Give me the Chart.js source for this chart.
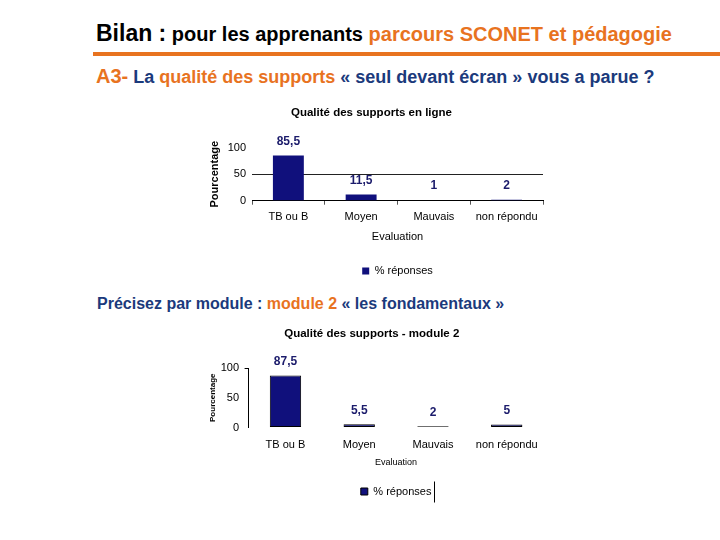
<!DOCTYPE html>
<html>
<head>
<meta charset="utf-8">
<script src="https://cdn.jsdelivr.net/npm/chart.js@4/dist/chart.umd.min.js"></script>
<style>
  html, body { margin: 0; padding: 0; background: #ffffff; }
  body { width: 720px; height: 540px; position: relative; overflow: hidden; font-family: 'Liberation Sans', Arial, sans-serif; }
  .txt { position: absolute; white-space: nowrap; font-weight: bold; }
  .or { color: #e8731f; }
  .nv { color: #1b3a7c; }
  canvas { position: absolute; }
</style>
</head>
<body>
<div class="txt" style="left:96px; top:21px; font-size:20px; line-height:24px; color:#000;"><span style="font-size:23px;">Bilan :</span> pour les apprenants <span class="or">parcours SCONET et pédagogie</span></div>
<div style="position:absolute; left:93px; top:52px; width:627px; height:4px; background:#e8731f;"></div>
<div class="txt nv" style="left:96px; top:65px; font-size:18px; line-height:22px;"><span class="or" style="font-size:20px;">A3-</span> La <span class="or">qualité des supports</span> « seul devant écran » vous a parue ?</div>
<div class="txt nv" style="left:97px; top:294px; font-size:16px; line-height:20px;">Précisez par module : <span class="or">module 2</span> « les fondamentaux »</div>

<canvas id="c1" width="350" height="190" style="left:200px; top:100px;"></canvas>
<canvas id="c2" width="350" height="190" style="left:200px; top:320px;"></canvas>

<script>
// ---- data ----
const categories = ['TB ou B', 'Moyen', 'Mauvais', 'non répondu'];
const valuesEnLigne = [85.5, 11.5, 1, 2];
const valuesModule2 = [87.5, 5.5, 2, 5];
const yTickValues = [0, 50, 100];
const seriesLabel = '% réponses';
const title1 = 'Qualité des supports en ligne';
const title2 = 'Qualité des supports - module 2';
const yTitle = 'Pourcentage';
const xTitle = 'Evaluation';

const FONT = "'Liberation Sans', Arial, sans-serif";
const NAVY = '#10107c';
const LABEL_NAVY = '#1b1b6b';

Chart.defaults.font.family = FONT;
Chart.defaults.color = '#000';

const valueLabels = {
  id: 'valueLabels',
  afterDatasetsDraw(chart) {
    const ctx = chart.ctx;
    chart.data.datasets.forEach((ds, i) => {
      chart.getDatasetMeta(i).data.forEach((bar, j) => {
        ctx.save();
        ctx.font = 'bold 12px ' + FONT;
        ctx.fillStyle = LABEL_NAVY;
        ctx.textAlign = 'center';
        ctx.textBaseline = 'middle';
        ctx.fillText(String(ds.data[j]).replace('.', ','), bar.x, bar.y - 14);
        ctx.restore();
      });
    });
  }
};

const legendBar = {
  id: 'legendBar',
  afterDraw(chart, args, opts) {
    if (!opts || !opts.show) return;
    const lg = chart.legend;
    if (!lg || !lg.legendHitBoxes || !lg.legendHitBoxes.length) return;
    const hb = lg.legendHitBoxes[0];
    const ctx = chart.ctx;
    const x = Math.round(hb.left + hb.width + 3) + 0.5;
    const cy = hb.top + hb.height / 2;
    ctx.save();
    ctx.strokeStyle = '#000';
    ctx.lineWidth = 1;
    ctx.beginPath();
    ctx.moveTo(x, cy - 10);
    ctx.lineTo(x, cy + 11);
    ctx.stroke();
    ctx.restore();
  }
};

function makeChart(id, values, cfg) {
  return new Chart(document.getElementById(id), {
    type: 'bar',
    data: {
      labels: categories,
      datasets: [{
        label: seriesLabel,
        data: values,
        backgroundColor: NAVY,
        borderColor: cfg.border ? '#000000' : NAVY,
        borderWidth: cfg.border ? 1 : 0,
        borderSkipped: false,
        barPercentage: 0.425,
        categoryPercentage: 1.0
      }]
    },
    options: {
      responsive: false,
      animation: false,
      devicePixelRatio: 1,
      layout: { padding: { left: 0, right: cfg.padRight, top: 0, bottom: cfg.padBottom } },
      plugins: {
        title: {
          display: true,
          text: cfg.title,
          font: { size: 11.5, weight: 'bold' },
          color: '#000',
          padding: { top: cfg.titleTop, bottom: cfg.titleBottom }
        },
        legend: {
          display: true,
          position: 'bottom',
          fullSize: false,
          labels: {
            boxWidth: 7,
            boxHeight: 7,
            padding: cfg.legendPad,
            font: { size: 11 },
            color: '#000'
          }
        },
        tooltip: { enabled: false },
        legendBar: { show: cfg.legendBar }
      },
      scales: {
        x: {
          afterFit(scale) { scale.height = cfg.xHeight; },
          border: { display: cfg.xBorder, color: '#000' },
          grid: {
            display: cfg.xTicks,
            drawOnChartArea: false,
            drawTicks: cfg.xTicks,
            tickLength: cfg.xTicks ? 4 : 0,
            color: '#555'
          },
          ticks: { font: { size: 11 }, color: '#000', padding: cfg.xTickPad, maxRotation: 0, autoSkip: false },
          title: {
            display: true,
            text: xTitle,
            font: { size: cfg.xTitleSize, weight: cfg.xTitleWeight },
            color: '#000',
            padding: 0
          }
        },
        y: {
          min: 0,
          max: 100,
          afterFit(scale) { scale.width = cfg.yWidth; },
          afterBuildTicks(scale) { scale.ticks = yTickValues.map(v => ({ value: v })); },
          border: { display: cfg.yBorder, color: '#000' },
          grid: cfg.yGrid,
          ticks: { font: { size: 11 }, color: '#000', padding: cfg.yTickPad },
          title: {
            display: true,
            text: yTitle,
            font: { size: cfg.yTitleSize, weight: 'bold' },
            color: '#000',
            padding: { top: cfg.yTitlePad, bottom: 0 }
          }
        }
      }
    },
    plugins: [valueLabels, legendBar]
  });
}

makeChart('c1', valuesEnLigne, {
  title: title1,
  border: false,
  padRight: 7,
  padBottom: 3.5,
  titleTop: 6.1,
  titleBottom: 27.8,
  legendPad: 21.9,
  legendBar: false,
  xHeight: 42.9,
  xBorder: true,
  xTicks: true,
  xTickPad: 5.7,
  xTitleSize: 11,
  xTitleWeight: 'normal',
  yWidth: 52,
  yBorder: false,
  yGrid: {
    drawTicks: false,
    tickLength: 0,
    color: (c) => (c.tick && c.tick.value === 50 ? '#222' : 'rgba(0,0,0,0)')
  },
  yTickPad: 6,
  yTitleSize: 11,
  yTitlePad: 8.4
});

makeChart('c2', valuesModule2, {
  title: title2,
  border: true,
  padRight: 6.4,
  padBottom: 3,
  titleTop: 6.6,
  titleBottom: 27.6,
  legendPad: 17.6,
  legendBar: true,
  xHeight: 40.9,
  xBorder: false,
  xTicks: false,
  xTickPad: 10.9,
  xTitleSize: 9,
  xTitleWeight: 'normal',
  yWidth: 48.6,
  yBorder: true,
  yGrid: {
    drawOnChartArea: false,
    drawTicks: true,
    tickLength: 4,
    color: (c) => (c.tick && c.tick.value === 100 ? '#000' : 'rgba(0,0,0,0)')
  },
  yTickPad: 5.6,
  yTitleSize: 8,
  yTitlePad: 8.2
});
</script>
</body>
</html>
